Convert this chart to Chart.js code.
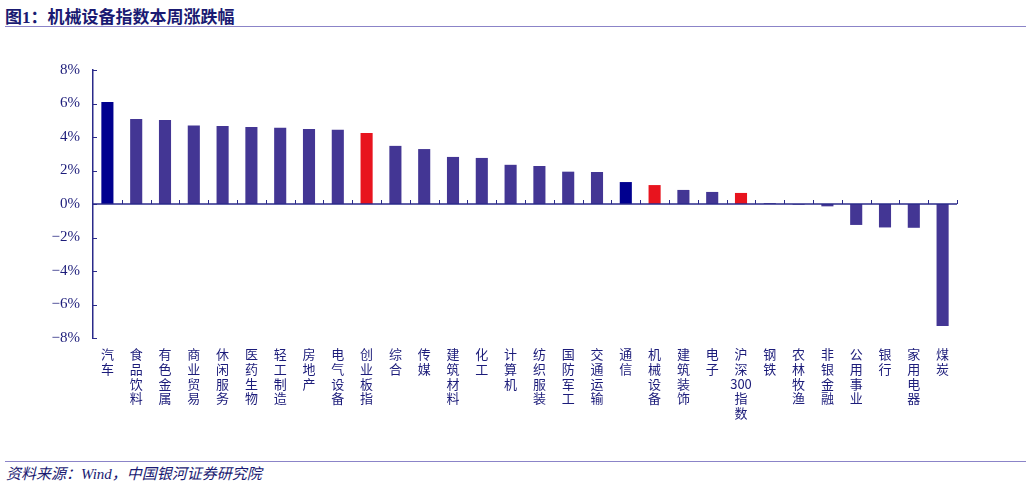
<!DOCTYPE html>
<html>
<head>
<meta charset="utf-8">
<script src="https://cdn.jsdelivr.net/npm/chart.js@4.4.1/dist/chart.umd.min.js"></script>
<style>
  html, body { margin: 0; padding: 0; background: #fff; }
  body { width: 1031px; height: 485px; position: relative; overflow: hidden; }
  #titulo {
    position: absolute; left: 5px; top: 3px;
    font: bold 17px "Liberation Serif", "Noto Sans CJK SC", serif; color: #1a1a72;
  }
  #linha-topo { position: absolute; left: 5px; top: 26px; width: 1021px; height: 1px; background: #8b84c8; }
  #linha-base { position: absolute; left: 5px; top: 461px; width: 1021px; height: 1px; background: #8b84c8; }
  #fonte {
    position: absolute; left: 6px; top: 462px;
    font: italic 15px "Liberation Serif", "Noto Sans CJK SC", serif; color: #1a1a72;
  }
  #box { position: absolute; left: 0; top: 31px; width: 1031px; height: 425px; }
</style>
</head>
<body>
<div id="titulo">图1：机械设备指数本周涨跌幅</div>
<div id="linha-topo"></div>
<div id="box"><canvas id="grafico"></canvas></div>
<div id="linha-base"></div>
<div id="fonte">资料来源：Wind，中国银河证券研究院</div>
<script>
const categorias = ['汽车', '食品饮料', '有色金属', '商业贸易', '休闲服务', '医药生物', '轻工制造', '房地产',
  '电气设备', '创业板指', '综合', '传媒', '建筑材料', '化工', '计算机', '纺织服装', '国防军工', '交通运输',
  '通信', '机械设备', '建筑装饰', '电子', '沪深300指数', '钢铁', '农林牧渔', '非银金融', '公用事业', '银行',
  '家用电器', '煤炭'];
const variacao = [6.09, 5.07, 5.01, 4.68, 4.66, 4.60, 4.55, 4.48, 4.44, 4.24, 3.47, 3.28, 2.81, 2.75, 2.34,
  2.27, 1.93, 1.91, 1.31, 1.13, 0.84, 0.72, 0.66, 0.05, -0.04, -0.14, -1.25, -1.40, -1.42, -7.28];
const destaqueAzul = ['汽车', '通信'];
const destaqueVermelho = ['创业板指', '机械设备', '沪深300指数'];
const ticksY = [-8, -6, -4, -2, 0, 2, 4, 6, 8];

const COR = { roxo: '#433694', azul: '#00008f', vermelho: '#e8141e', texto: '#1c1c7a', eixo: '#2a2a8a' };

const cores = categorias.map(c =>
  destaqueAzul.includes(c) ? COR.azul : destaqueVermelho.includes(c) ? COR.vermelho : COR.roxo);

// rotulo vertical: um caractere por linha, digitos juntos
function quebrar(txt) {
  return txt.match(/\d+|./g);
}

const eixos = {
  id: 'eixos',
  afterDatasetsDraw(chart) {
    const { ctx, chartArea: a, scales: { y } } = chart;
    const y0 = y.getPixelForValue(0);
    ctx.save();
    ctx.strokeStyle = COR.eixo;
    ctx.lineWidth = 1.5;
    ctx.beginPath();
    ctx.moveTo(a.left, y0); ctx.lineTo(a.right, y0);
    ctx.stroke();
    ctx.lineWidth = 1;
    ctx.beginPath();
    const passo = (a.right - a.left) / categorias.length;
    for (let i = 1; i <= categorias.length; i++) {
      const px = Math.round(a.left + i * passo) + 0.5;
      ctx.moveTo(px, y0); ctx.lineTo(px, y0 - 4);
    }
    for (const v of ticksY) {
      const py = Math.round(y.getPixelForValue(v)) + 0.5;
      ctx.moveTo(a.left, py); ctx.lineTo(a.left + 4, py);
    }
    ctx.stroke();
    ctx.restore();
  }
};

new Chart(document.getElementById('grafico'), {
  type: 'bar',
  data: {
    labels: categorias.map(quebrar),
    datasets: [{ data: variacao, backgroundColor: cores, barPercentage: 0.42, categoryPercentage: 1 }]
  },
  options: {
    responsive: true, maintainAspectRatio: false, animation: false,
    layout: { padding: { top: 39, right: 74, left: 0, bottom: 0 } },
    plugins: { legend: { display: false }, tooltip: { enabled: false } },
    scales: {
      x: {
        grid: { display: false, drawTicks: false },
        border: { display: false },
        afterFit: s => { s.height = 118; },
        ticks: {
          autoSkip: false, maxRotation: 0, minRotation: 0, padding: 9,
          color: COR.texto,
          font: { family: '"Noto Sans CJK SC"', size: 13, lineHeight: 1.13 }
        }
      },
      y: {
        min: -8, max: 8,
        afterFit: s => { s.width = 93; },
        afterBuildTicks: s => { s.ticks = ticksY.map(v => ({ value: v })); },
        grid: { display: false, drawTicks: false },
        border: { display: true, color: COR.eixo, width: 1.5 },
        ticks: {
          padding: 13, color: COR.texto,
          font: { family: '"Liberation Serif"', size: 15 },
          callback: v => (v < 0 ? '\u2212' + Math.abs(v) : v) + '%'
        }
      }
    }
  },
  plugins: [eixos]
});
</script>
</body>
</html>
